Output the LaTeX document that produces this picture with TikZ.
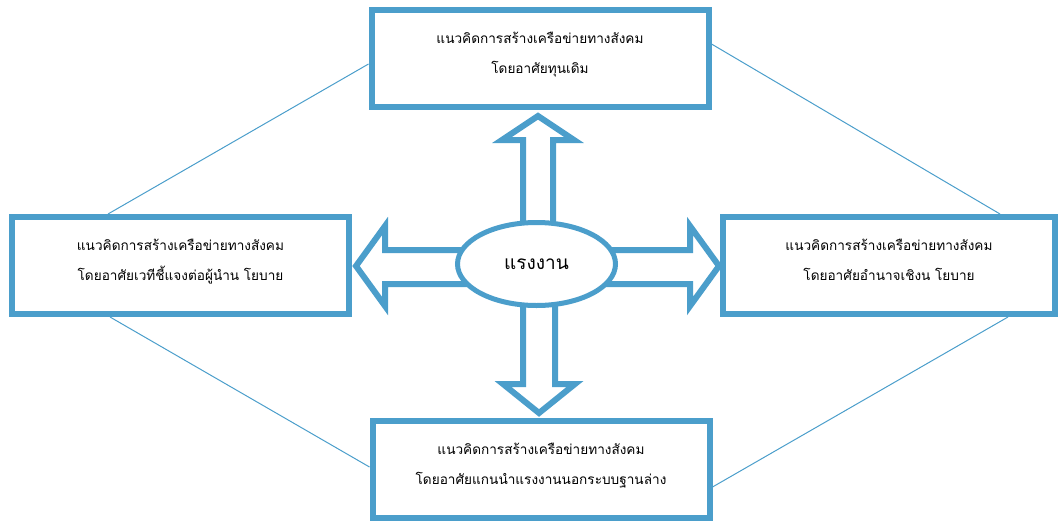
\documentclass[tikz,border=0pt]{standalone}
\usepackage{fontspec}
\newfontfamily\thaifont[Script=Thai]{Loma}
\usetikzlibrary{shapes.geometric}
\definecolor{netblue}{RGB}{75,158,203}

\begin{document}
\begin{tikzpicture}[x=1pt, y=-1pt,
		conceptbox/.style={draw=netblue, line width=6pt, fill=white, minimum width=337pt, minimum height=97pt, text depth=12pt, align=center, font=\thaifont\fontsize{13.6}{30}\selectfont},
		corenode/.style={ellipse, draw=netblue, line width=5pt, fill=white, minimum width=158pt, minimum height=83pt, font=\thaifont\fontsize{19}{22}\selectfont},
		blockarrow/.style={draw=netblue, line width=6pt, fill=white, line join=miter},
		tieline/.style={draw=netblue, line width=1pt}]
	\useasboundingbox (0,0) rectangle (1059,522);
	% four boxes
	\node[conceptbox] (tbox) at (540,58.5) {แนวคิดการสร้างเครือข่ายทางสังคม\\โดยอาศัยทุนเดิม};
	\node[conceptbox] (lbox) at (180.5,265.5) {แนวคิดการสร้างเครือข่ายทางสังคม\\โดยอาศัยเวทีชี้แจงต่อผู้นำน โยบาย};
	\node[conceptbox, minimum width=332pt] (rbox) at (889,265.5) {แนวคิดการสร้างเครือข่ายทางสังคม\\โดยอาศัยอำนาจเชิงน โยบาย};
	\node[conceptbox] (bbox) at (541,469.5) {แนวคิดการสร้างเครือข่ายทางสังคม\\โดยอาศัยแกนนำแรงงานนอกระบบฐานล่าง};
	% thin lines between boxes
	\draw[tieline] ([xshift=-72.5pt]lbox.north) -- ([yshift=-5.5pt]tbox.west);
	\draw[tieline] ([yshift=14.5pt]tbox.east) -- ([xshift=111pt]rbox.north);
	\draw[tieline] ([xshift=-70.5pt]lbox.south) -- ([yshift=2.5pt]bbox.west);
	\draw[tieline] ([xshift=119pt]rbox.south) -- ([yshift=-17.5pt]bbox.east);
	% block arrows
	\draw[blockarrow] (523,264) -- (523,140) -- (502,140) -- (538,116) -- (574,140) -- (553,140) -- (553,264) -- cycle;
	\draw[blockarrow] (523,264) -- (523,384) -- (503,384) -- (539,413) -- (575,384) -- (555,384) -- (555,264) -- cycle;
	\draw[blockarrow] (537,250) -- (385,250) -- (385,226) -- (356,266) -- (385,306) -- (385,284) -- (537,284) -- cycle;
	\draw[blockarrow] (537,250) -- (690,250) -- (690,226) -- (719,266) -- (690,306) -- (690,284) -- (537,284) -- cycle;
	% centre
	\node[corenode] (core) at (536.5,264) {แรงงาน};
\end{tikzpicture}
\end{document}
